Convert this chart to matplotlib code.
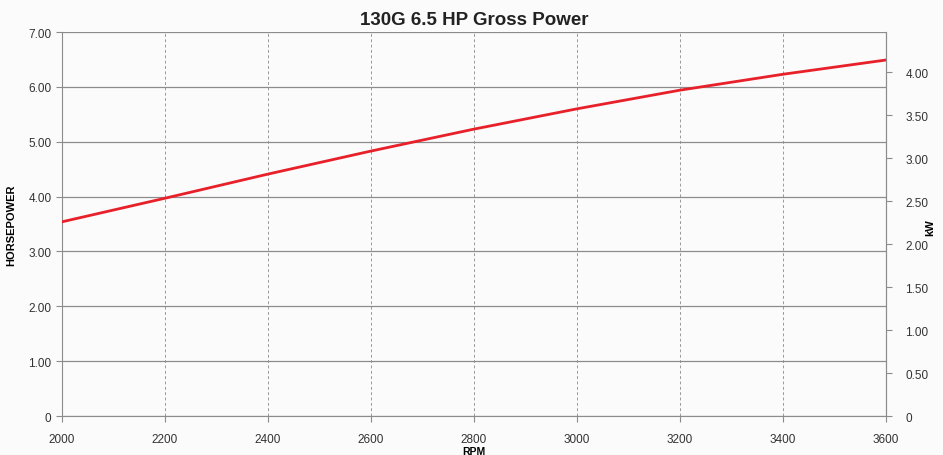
import matplotlib.pyplot as plt

rpm = [2000, 2200, 2400, 2600, 2800, 3000, 3200, 3400, 3600]
hp = [3.54, 3.97, 4.41, 4.83, 5.23, 5.60, 5.94, 6.23, 6.49]

hp_ticks = [0, 1, 2, 3, 4, 5, 6, 7]
hp_labels = ["0", "1.00", "2.00", "3.00", "4.00", "5.00", "6.00", "7.00"]
kw_ticks = [0, 0.5, 1.0, 1.5, 2.0, 2.5, 3.0, 3.5, 4.0]
kw_labels = ["0", "0.50", "1.00", "1.50", "2.00", "2.50", "3.00", "3.50", "4.00"]

plt.rcParams['font.family'] = ['Liberation Sans', 'DejaVu Sans']
grey = "#8c8c8c"

fig = plt.figure(figsize=(9.43, 4.56), dpi=100)
fig.patch.set_facecolor("#fbfbfb")
ax = fig.add_axes([0.0657, 0.0855, 0.8739, 0.8421])
ax.set_facecolor("#fbfbfb")

ax.plot(rpm, hp, color="#e8202a", lw=2.0, zorder=3)

ax.set_xlim(2000, 3600)
ax.set_ylim(0, 7)
ax.set_xticks(rpm)
ax.set_yticks(hp_ticks)
ax.set_yticklabels(hp_labels)
ax.grid(axis="y", color=grey, lw=0.9, ls="-")
ax.grid(axis="x", color="#9a9a9a", lw=0.7, ls=(0, (3, 2.5)))
ax.tick_params(colors=grey, labelcolor="#333333", labelsize=8.5, length=4, width=0.8)
ax.tick_params(axis="x", pad=8)
for s in ["left", "bottom", "right"]:
    ax.spines[s].set_color(grey)
ax.spines["top"].set_visible(False)

ax.set_xlabel("RPM", fontsize=7.5, fontweight="bold", labelpad=1)
ax.set_ylabel("HORSEPOWER", fontsize=8, fontweight="bold", labelpad=9)
ax.set_title("130G 6.5 HP Gross Power", fontsize=13.5, fontweight="bold", pad=6, color="#222222")

ax2 = ax.twinx()
ax2.set_ylim(0, 4.47)
ax2.set_yticks(kw_ticks)
ax2.set_yticklabels(kw_labels)
ax2.tick_params(colors=grey, labelcolor="#333333", labelsize=8.5, length=4, width=0.8, pad=10)
for s in ["left", "top", "bottom"]:
    ax2.spines[s].set_visible(False)
ax2.spines["right"].set_color(grey)
fig.text(0.986, 0.5, "kW", rotation=90, ha="center", va="center", fontsize=8, fontweight="bold")

fig.savefig("out.png", dpi=100, facecolor=fig.get_facecolor())
